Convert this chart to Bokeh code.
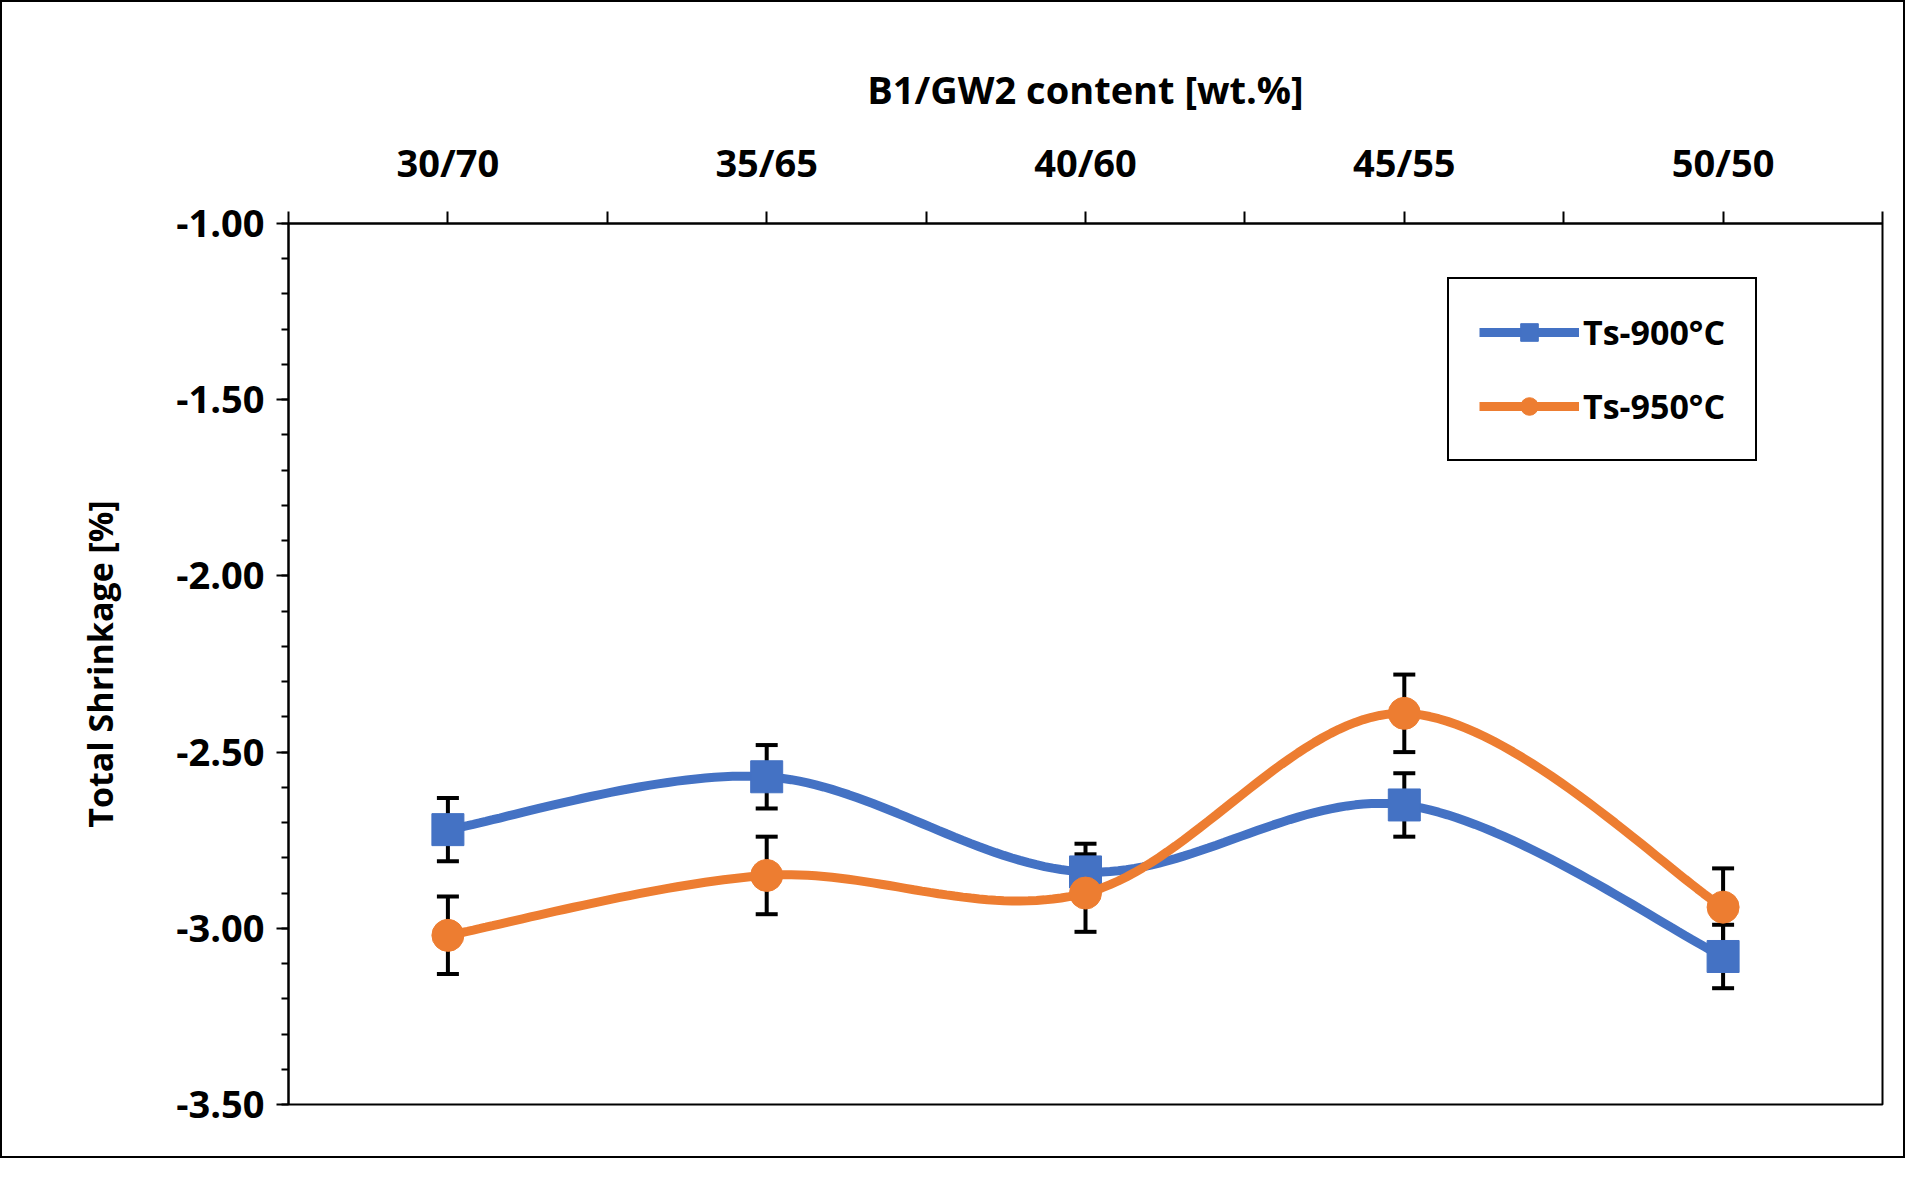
import numpy as np
from bokeh.plotting import figure
from bokeh.models import (ColumnDataSource, Whisker, TeeHead, LinearAxis, FixedTicker,
                          Legend, LegendItem, Range1d)
from bokeh.embed import file_html
from bokeh.resources import INLINE

categories = ["30/70", "35/65", "40/60", "45/55", "50/50"]
ts900 = [-2.72, -2.57, -2.84, -2.65, -3.08]
ts900_err = [0.09, 0.09, 0.08, 0.09, 0.09]
ts950 = [-3.02, -2.85, -2.90, -2.39, -2.94]
ts950_err = [0.11, 0.11, 0.11, 0.11, 0.11]

BLUE = "#4472C4"
ORANGE = "#ED7D31"
FONT = "Open Sans"

def smooth(xs, ys, n=40):
    xs = np.asarray(xs, float); ys = np.asarray(ys, float)
    px = np.concatenate([[xs[0]], xs, [xs[-1]]])
    py = np.concatenate([[ys[0]], ys, [ys[-1]]])
    ox, oy = [], []
    t = np.linspace(0, 1, n)
    for i in range(1, len(xs)):
        p0 = np.array([px[i], py[i]]); p1 = np.array([px[i+1], py[i+1]])
        c1 = p0 + (np.array([px[i+1], py[i+1]]) - np.array([px[i-1], py[i-1]])) / 6
        c2 = p1 - (np.array([px[i+2], py[i+2]]) - np.array([px[i], py[i]])) / 6
        b = ((1-t)**3)[:, None]*p0 + (3*(1-t)**2*t)[:, None]*c1 + (3*(1-t)*t**2)[:, None]*c2 + (t**3)[:, None]*p1
        ox.extend(b[:, 0]); oy.extend(b[:, 1])
    return ox, oy

x = list(range(len(categories)))

p = figure(width=1905, height=1158, output_backend="svg", toolbar_location=None,
           x_range=Range1d(-0.5, 4.5), y_range=Range1d(-3.5, -1.0),
           x_axis_location=None, y_axis_location=None,
           min_border_left=286, min_border_top=221, min_border_right=25, min_border_bottom=56)
p.styles = {"border": "2px solid black"}
p.grid.visible = False
p.outline_line_color = "black"
p.outline_line_width = 2

yax = LinearAxis(ticker=FixedTicker(ticks=[-1.0, -1.5, -2.0, -2.5, -3.0, -3.5],
                                    minor_ticks=[round(-1.0 - 0.1*i, 2) for i in range(26)]))
yax.major_label_overrides = {v: f"{v:.2f}" for v in [-1.0, -1.5, -2.0, -2.5, -3.0, -3.5]}
yax.axis_label = "Total Shrinkage [%]"
yax.axis_label_text_font = FONT
yax.axis_label_text_font_style = "bold"
yax.axis_label_text_font_size = "34px"
yax.axis_label_text_color = "black"
yax.axis_label_standoff = 50
yax.major_label_text_font = FONT
yax.major_label_text_font_style = "bold"
yax.major_label_text_font_size = "38px"
yax.major_label_text_color = "black"
yax.major_label_standoff = 12
yax.axis_line_width = 2
yax.major_tick_line_width = 2
yax.minor_tick_line_width = 2
yax.major_tick_out = 12
yax.major_tick_in = 0
yax.minor_tick_out = 7
yax.minor_tick_in = 0
p.add_layout(yax, "left")

xticks = [-0.5, 0, 0.5, 1, 1.5, 2, 2.5, 3, 3.5, 4, 4.5]
xax = LinearAxis(ticker=FixedTicker(ticks=xticks, minor_ticks=[]))
xax.major_label_overrides = {t: (categories[int(t)] if float(t).is_integer() else "") for t in xticks}
xax.axis_label = "B1/GW2 content [wt.%]"
xax.axis_label_text_font = FONT
xax.axis_label_text_font_style = "bold"
xax.axis_label_text_font_size = "38px"
xax.axis_label_text_color = "black"
xax.axis_label_standoff = 18
xax.major_label_text_font = FONT
xax.major_label_text_font_style = "bold"
xax.major_label_text_font_size = "38px"
xax.major_label_text_color = "black"
xax.major_label_standoff = 24
xax.axis_line_width = 2
xax.major_tick_line_width = 2
xax.major_tick_out = 12
xax.major_tick_in = 0
p.add_layout(xax, "above")

items = []
for name, ys, errs, col, mk in [("Ts-900°C", ts900, ts900_err, BLUE, "square"),
                                  ("Ts-950°C", ts950, ts950_err, ORANGE, "circle")]:
    src = ColumnDataSource(dict(x=x, y=ys,
                                lo=[a - e for a, e in zip(ys, errs)],
                                hi=[a + e for a, e in zip(ys, errs)]))
    w = Whisker(source=src, base="x", upper="hi", lower="lo", line_color="black", line_width=4,
                upper_head=TeeHead(size=22, line_width=4, line_color="black"),
                lower_head=TeeHead(size=22, line_width=4, line_color="black"))
    p.add_layout(w)
    sx, sy = smooth(x, ys)
    r1 = p.line(sx, sy, line_color=col, line_width=9)
    r2 = p.scatter("x", "y", source=src, marker=mk, size=32, fill_color=col, line_color=col)
    items.append(LegendItem(label=name, renderers=[r1, r2]))

leg = Legend(items=items, location=(1159, 643))
leg.border_line_color = "black"
leg.border_line_width = 2
leg.border_line_alpha = 1
leg.label_text_font = FONT
leg.label_text_font_style = "bold"
leg.label_text_font_size = "34px"
leg.label_text_color = "black"
leg.glyph_width = 100
leg.glyph_height = 44
leg.spacing = 28
leg.padding = 30
leg.margin = 0
leg.label_standoff = 4
p.add_layout(leg)

open("out.html", "w").write(file_html(p, INLINE))
